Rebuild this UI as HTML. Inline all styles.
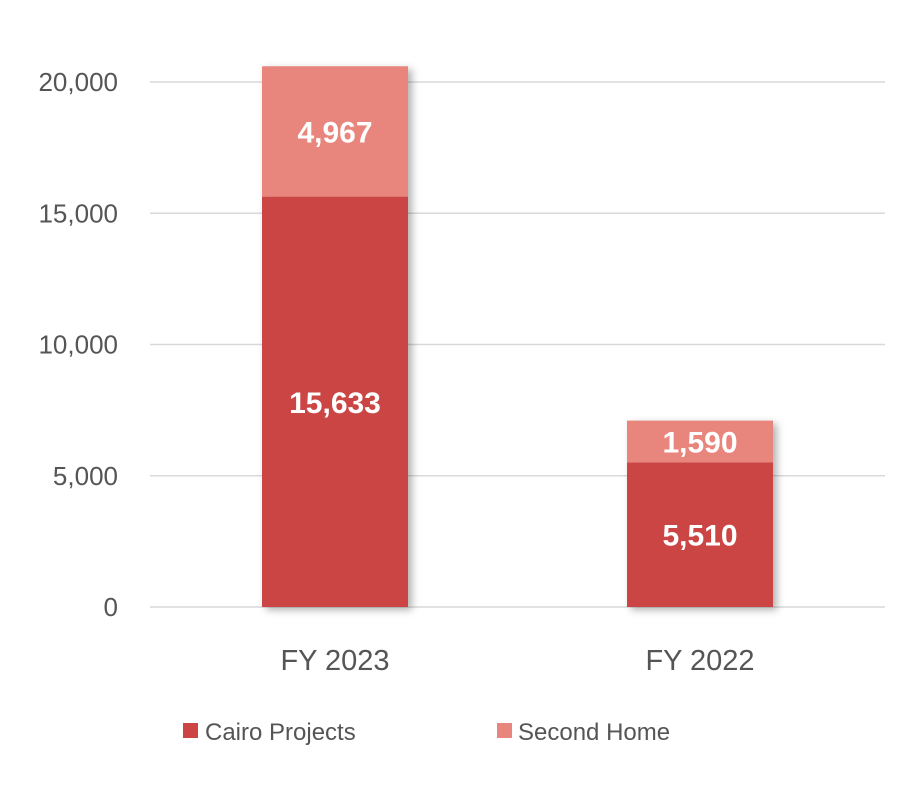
<!DOCTYPE html>
<html><head><meta charset="utf-8"><style>
body{margin:0;background:#fff;}
svg{display:block;font-family:"Liberation Sans",sans-serif;}
</style></head><body>
<svg id="chart" width="900" height="800">
<defs><filter id="sh" x="-20%" y="-20%" width="140%" height="140%"><feDropShadow dx="4" dy="3" stdDeviation="4" flood-color="#000" flood-opacity="0.3"/></filter></defs>
<g id="grid"></g><g id="bars"></g><g id="labels"></g>
<g>
<rect x="183" y="723" width="15" height="15" fill="#cc4444"/>
<text x="205" y="740" font-size="24" fill="#555">Cairo Projects</text>
<rect x="497" y="723" width="15" height="15" fill="#e8857d"/>
<text x="518" y="740" font-size="24" fill="#555">Second Home</text>
</g>
</svg>
<script>
const categories=["FY 2023","FY 2022"];
const cairoProjects=[15633,5510];
const secondHome=[4967,1590];
const ticks=[0,5000,10000,15000,20000];
const ns="http://www.w3.org/2000/svg";
const y0=607,yTop=82,maxV=20000;
const y=v=>y0-(v/maxV)*(y0-yTop);
const xC=i=>335+i*365;
const bw=146;
const fmt=v=>v.toLocaleString("en-US");
function mk(tag,attrs,parent){const e=document.createElementNS(ns,tag);for(const k in attrs)e.setAttribute(k,attrs[k]);parent.appendChild(e);return e;}
const grid=document.getElementById("grid"),bars=document.getElementById("bars"),labels=document.getElementById("labels");
ticks.forEach(t=>{
 const l=mk("line",{x1:150,x2:885,y1:y(t),y2:y(t),stroke:"#d9d9d9","stroke-width":1.5},grid);
 
 
 const tx=mk("text",{x:118,y:y(t)+9,"text-anchor":"end","font-size":26,fill:"#555"},grid);
 tx.textContent=fmt(t);
 
 
});
categories.forEach((c,i)=>{
 const a=cairoProjects[i],b=secondHome[i],x=xC(i)-bw/2;
 const g=mk("g",{filter:"url(#sh)"},bars);
 
 
 const r1=mk("rect",{x:x,y:y(a),width:bw,height:y0-y(a),fill:"#cc4444"},g);
 
 
 const r2=mk("rect",{x:x,y:y(a+b),width:bw,height:y(a)-y(a+b),fill:"#e8857d"},g);
 
 
 const t1=mk("text",{x:xC(i),y:(y(a)+y0)/2+11,"text-anchor":"middle","font-size":30,"font-weight":"bold",fill:"#fff"},labels);
 t1.textContent=fmt(a);
 
 
 const t2=mk("text",{x:xC(i),y:(y(a)+y(a+b))/2+11,"text-anchor":"middle","font-size":30,"font-weight":"bold",fill:"#fff"},labels);
 t2.textContent=fmt(b);
 
 
 const xl=mk("text",{x:xC(i),y:670,"text-anchor":"middle","font-size":29,fill:"#555"},labels);
 xl.textContent=c;
 
 
});
</script>
</body></html>
